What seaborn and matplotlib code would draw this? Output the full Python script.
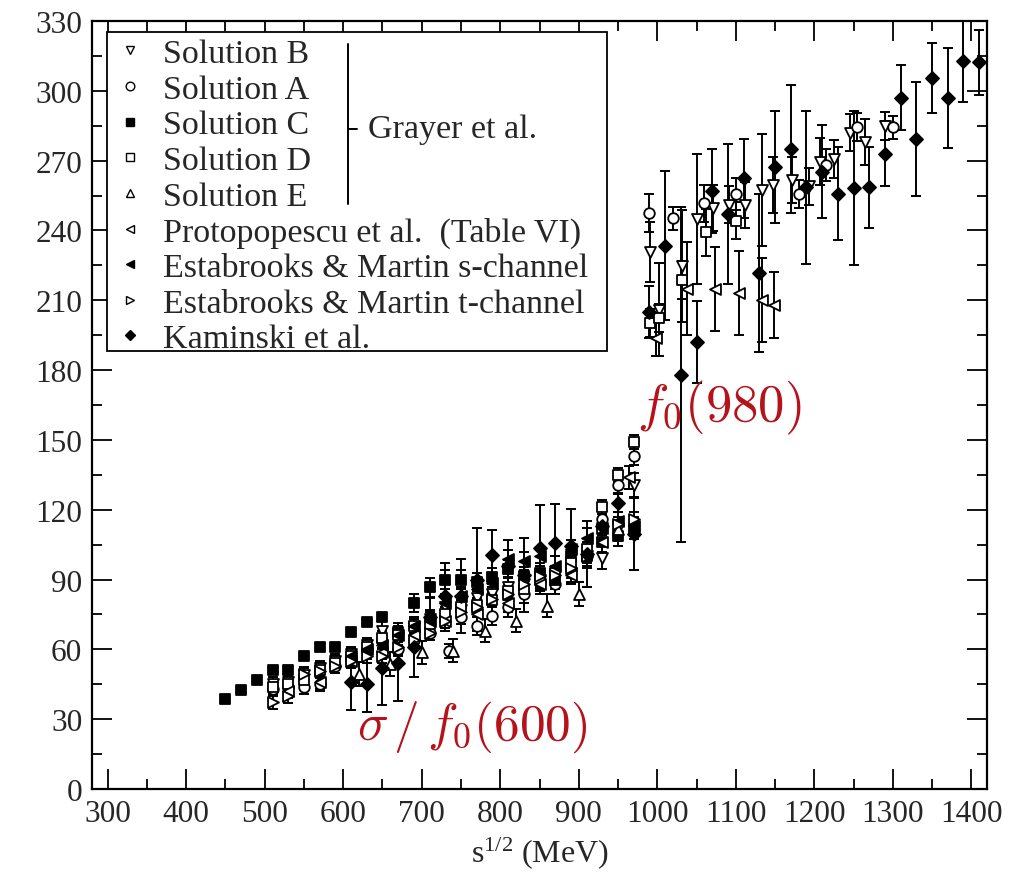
import numpy as np
import pandas as pd
import matplotlib
matplotlib.use('Agg')
import matplotlib.pyplot as plt
import seaborn as sns
from matplotlib.lines import Line2D
from matplotlib.patches import Rectangle
from matplotlib.ticker import MultipleLocator

# ---------------- data ----------------
# Grayer et al. Solution B (open down triangles)
solB_x = [510, 530, 550, 570, 590, 610, 630, 650, 670, 690, 710, 730, 750, 770, 790, 810, 830, 850, 870, 890, 910, 930, 950, 970,
          991, 1002, 1031, 1051, 1071, 1091, 1112, 1133, 1148, 1172, 1193, 1207, 1225, 1246, 1265, 1290]
solB_y = [45, 46, 49, 52, 55, 58, 62, 68, 65, 69, 73, 78, 77, 82, 84, 87, 88, 90, 92, 93, 100, 99.4, 111.7, 130.6,
          230.8, 206, 224.7, 245, 249.6, 251, 251, 257.4, 259.6, 261.7, 259, 269.6, 270.7, 282, 278, 285]
solB_e = [3, 3, 3, 3, 3, 3, 3, 4, 4, 4, 4, 4, 4, 4, 4, 4, 4, 4, 4, 4, 5, 5, 5, 5,
          13, 20, 24, 28, 10, 8, 10, 24, 12, 10, 8, 10, 8, 8, 10, 6]

# Solution A (open circles)
solA_x = [510, 530, 550, 570, 590, 610, 630, 650, 670, 690, 710, 735, 750, 770, 790, 810, 830, 850, 870, 890, 910, 930, 950, 970,
          990, 1020, 1060, 1100, 1180, 1215, 1255, 1300]
solA_y = [43, 44, 44, 45, 53, 56, 60, 63.7, 60, 64, 67, 59.4, 73.8, 70, 74.5, 78, 83.8, 89, 88, 94.5, 100, 116.2, 130.6, 143.2,
          247.5, 245.2, 251.6, 255.7, 255.7, 268.2, 284.3, 284.3]
solA_e = [3, 3, 3, 3, 3, 3, 3, 3, 3, 3, 3, 3, 3, 4, 4, 4, 4, 4, 4, 4, 4, 4, 4, 4,
          8, 5, 8, 7, 6, 7, 6, 5]

# Solution C (filled squares)
solC_x = [450, 470, 490, 510, 530, 550, 570, 590, 610, 630, 650, 670, 690, 710, 730, 750, 770, 790, 810, 830, 850, 870, 890, 910, 930, 950, 970]
solC_y = [38.7, 42.5, 46.8, 51.1, 51.1, 57.2, 61.0, 61.0, 67.5, 71.8, 74.0, 67.5, 80.0, 86.7, 90.0, 90.0, 89, 91, 94.5, 91.5, 93, 90, 100, 100, 106, 108.5, 111.5]
solC_e = [1.5] * 11 + [4] * 16

# Solution D (open squares)
solD_x = [510, 530, 550, 570, 590, 610, 630, 650, 670, 690, 710, 730, 750, 770, 790, 810, 830, 850, 870, 890, 910, 930, 950, 970,
          991, 1002, 1031, 1062, 1100]
solD_y = [44, 45, 47, 51, 54, 57, 61, 65, 66, 70, 71, 75, 78, 79, 81, 85, 86, 90, 93, 97, 103, 121, 135, 149.3,
          200.3, 202.3, 218.7, 239.2, 244.2]
solD_e = [3] * 24 + [6, 6, 8, 10, 8]

# Solution E (open up triangles)
solE_x = [620, 660, 700, 740, 780, 820, 860, 900, 950]
solE_y = [49.4, 53.7, 58.8, 59.4, 68, 72.3, 78.8, 83.8, 111.7]
solE_e = [5, 5, 5, 5, 5, 5, 5, 5, 5]

# Protopopescu et al. (open left triangles)
prot_x = [530, 570, 610, 650, 690, 730, 770, 810, 850, 890, 930, 964, 998, 1038, 1074, 1104, 1134, 1149]
prot_y = [42, 46, 55, 59, 66, 72, 75, 80, 88, 92, 106, 134, 194, 215, 215, 213, 210, 208]
prot_e = [3, 3, 3, 3, 3, 4, 4, 4, 4, 4, 5, 5, 8, 20, 18, 18, 18, 14]

# Estabrooks & Martin s-channel (filled left triangles)
ems_x = [610, 630, 650, 670, 690, 710, 730, 750, 770, 790, 810, 830, 850, 870, 890, 910, 930, 950, 970]
ems_y = [57, 60, 62, 66, 70, 72, 80, 83, 86, 88.5, 98.8, 98, 100, 96, 103, 108, 112, 115, 113]
ems_e = [4] * 19

# Estabrooks & Martin t-channel (open right triangles)
emt_x = [510, 530, 550, 570, 590, 610, 630, 650, 670, 690, 710, 730, 750, 770, 790, 810, 830, 850, 870, 890, 910, 930, 950, 970]
emt_y = [37.4, 40, 49.4, 50.7, 53, 55, 57, 57, 61, 64, 67, 72, 76, 78, 81.7, 84, 88, 91.7, 92, 95, 100, 112, 114, 116]
emt_e = [3] * 24

# Kaminski et al. (filled diamonds)
kam_x = [610, 630, 650, 670, 690, 710, 730, 750, 770, 790, 810, 830, 850, 870, 890, 910, 930, 950, 970,
         990, 1010, 1030, 1050, 1070, 1090, 1110, 1130, 1150, 1170, 1190, 1210, 1230, 1250, 1270, 1290,
         1310, 1330, 1350, 1370, 1390, 1410]
kam_y = [46, 45, 52, 54, 61, 74, 83, 83, 90, 100.5, 96, 92, 103.5, 105.6, 104.5, 101, 113, 123, 109.6,
         205, 233.5, 178, 192, 257, 247, 262.4, 221.7, 267.4, 274.8, 258.5, 265.3, 255.7, 258.3, 258.5, 273,
         297, 279.5, 305.5, 297, 312.7, 312.2]
kam_e = [12, 12, 16, 16, 13, 8, 14, 16, 22, 11, 11, 16, 18.5, 17, 16, 14, 5, 4, 15.5,
         11, 32, 72, 17.5, 18, 30, 17, 34, 24, 27.5, 33, 20, 20, 33, 17.5, 14,
         14, 24.5, 15, 21.5, 17.5, 14]

labels = ["Solution B", "Solution A", "Solution C", "Solution D", "Solution E",
          "Protopopescu et al.  (Table VI)", "Estabrooks & Martin s-channel",
          "Estabrooks & Martin t-channel", "Kaminski et al."]

x_ticks = [300, 400, 500, 600, 700, 800, 900, 1000, 1100, 1200, 1300, 1400]
y_ticks = [0, 30, 60, 90, 120, 150, 180, 210, 240, 270, 300, 330]

# ---------------- style ----------------
sns.set_theme(style='ticks')
plt.rcParams['font.family'] = ['Liberation Serif', 'DejaVu Serif']
plt.rcParams['mathtext.fontset'] = 'cm'

W, H = 1029, 878
AX_L, AX_R, AX_T, AX_B = 92, 987, 22, 790
fig = plt.figure(figsize=(W / 100, H / 100), dpi=100)
ax = fig.add_axes([AX_L / W, 1 - AX_B / H, (AX_R - AX_L) / W, (AX_B - AX_T) / H])


def fx(px):
    return (px - AX_L) / (AX_R - AX_L)


def fy(py):
    return (AX_B - py) / (AX_B - AX_T)


series = [
    (solB_x, solB_y, solB_e, 'v', 'white', 62),
    (solA_x, solA_y, solA_e, 'o', 'white', 58),
    (solC_x, solC_y, solC_e, 's', 'black', 52),
    (solD_x, solD_y, solD_e, 's', 'white', 52),
    (solE_x, solE_y, solE_e, '^', 'white', 62),
    (prot_x, prot_y, prot_e, '<', 'white', 62),
    (ems_x, ems_y, ems_e, '<', 'black', 62),
    (emt_x, emt_y, emt_e, '>', 'white', 62),
    (kam_x, kam_y, kam_e, 'D', 'black', 44),
]

for xs, ys, es, m, fc, s in series:
    ax.errorbar(xs, ys, yerr=es, fmt='none', ecolor='black', elinewidth=1.4,
                capsize=3.3, capthick=1.4, zorder=2)
for xs, ys, es, m, fc, s in series:
    df = pd.DataFrame({'x': xs, 'y': ys})
    sns.scatterplot(data=df, x='x', y='y', marker=m, s=s, color=fc,
                    edgecolor='black', linewidth=1.3, ax=ax, zorder=3, legend=False)

ax.set_xlim(280, 1420)
ax.set_ylim(0, 330)
ax.set_xticks(x_ticks)
ax.set_yticks(y_ticks)
ax.xaxis.set_minor_locator(MultipleLocator(50))
ax.yaxis.set_minor_locator(MultipleLocator(15))
ax.tick_params(which='both', direction='in', top=True, right=True, color='black', width=1.3)
ax.tick_params(which='major', length=14.5, labelsize=22.5, pad=7)
ax.tick_params(which='minor', length=7.2)
for sp in ax.spines.values():
    sp.set_linewidth(1.6)
    sp.set_color('black')
ax.set_xlabel(r'$\mathregular{s^{1/2}}$ (MeV)', fontsize=23, labelpad=5)
ax.set_ylabel('')

# legend box (drawn explicitly) and legend entries
box = Rectangle((fx(107), fy(352)), fx(607) - fx(107), fy(33) - fy(352),
                transform=ax.transAxes, facecolor='white', edgecolor='black',
                lw=1.3, zorder=4.5, clip_on=False)
ax.add_patch(box)
handles = [Line2D([], [], marker=m, linestyle='none', markersize=6.2 if m != 'D' else 5.2,
                  markerfacecolor=fc, markeredgecolor='black', markeredgewidth=1.0)
           for xs, ys, es, m, fc, s in series]
leg = ax.legend(handles, labels, loc='upper left', bbox_to_anchor=(fx(118), fy(39.5)),
                borderaxespad=0, frameon=False, fontsize=24.5, handlelength=0.7,
                handletextpad=0.62, labelspacing=0.14, borderpad=0)
leg.set_zorder(5)

# Grayer bracket
bx = fx(348)
ax.plot([bx, bx], [fy(45), fy(205)], color='black', lw=1.4,
        transform=ax.transAxes, clip_on=False, zorder=6)
ax.plot([bx, fx(357)], [fy(130)] * 2, color='black', lw=1.4,
        transform=ax.transAxes, clip_on=False, zorder=6)
ax.text(fx(368), fy(130), 'Grayer et al.', fontsize=24.5,
        va='center', ha='left', transform=ax.transAxes, zorder=6)

# annotations
red = '#b5121b'
ax.text(974, 164, r'$f_0(980)$', color=red, fontsize=38, va='center', ha='left')
ax.text(618, 27, r'$\sigma\,/\,f_0(600)$', color=red, fontsize=37, va='center', ha='left')

fig.savefig('out.png', dpi=100)
